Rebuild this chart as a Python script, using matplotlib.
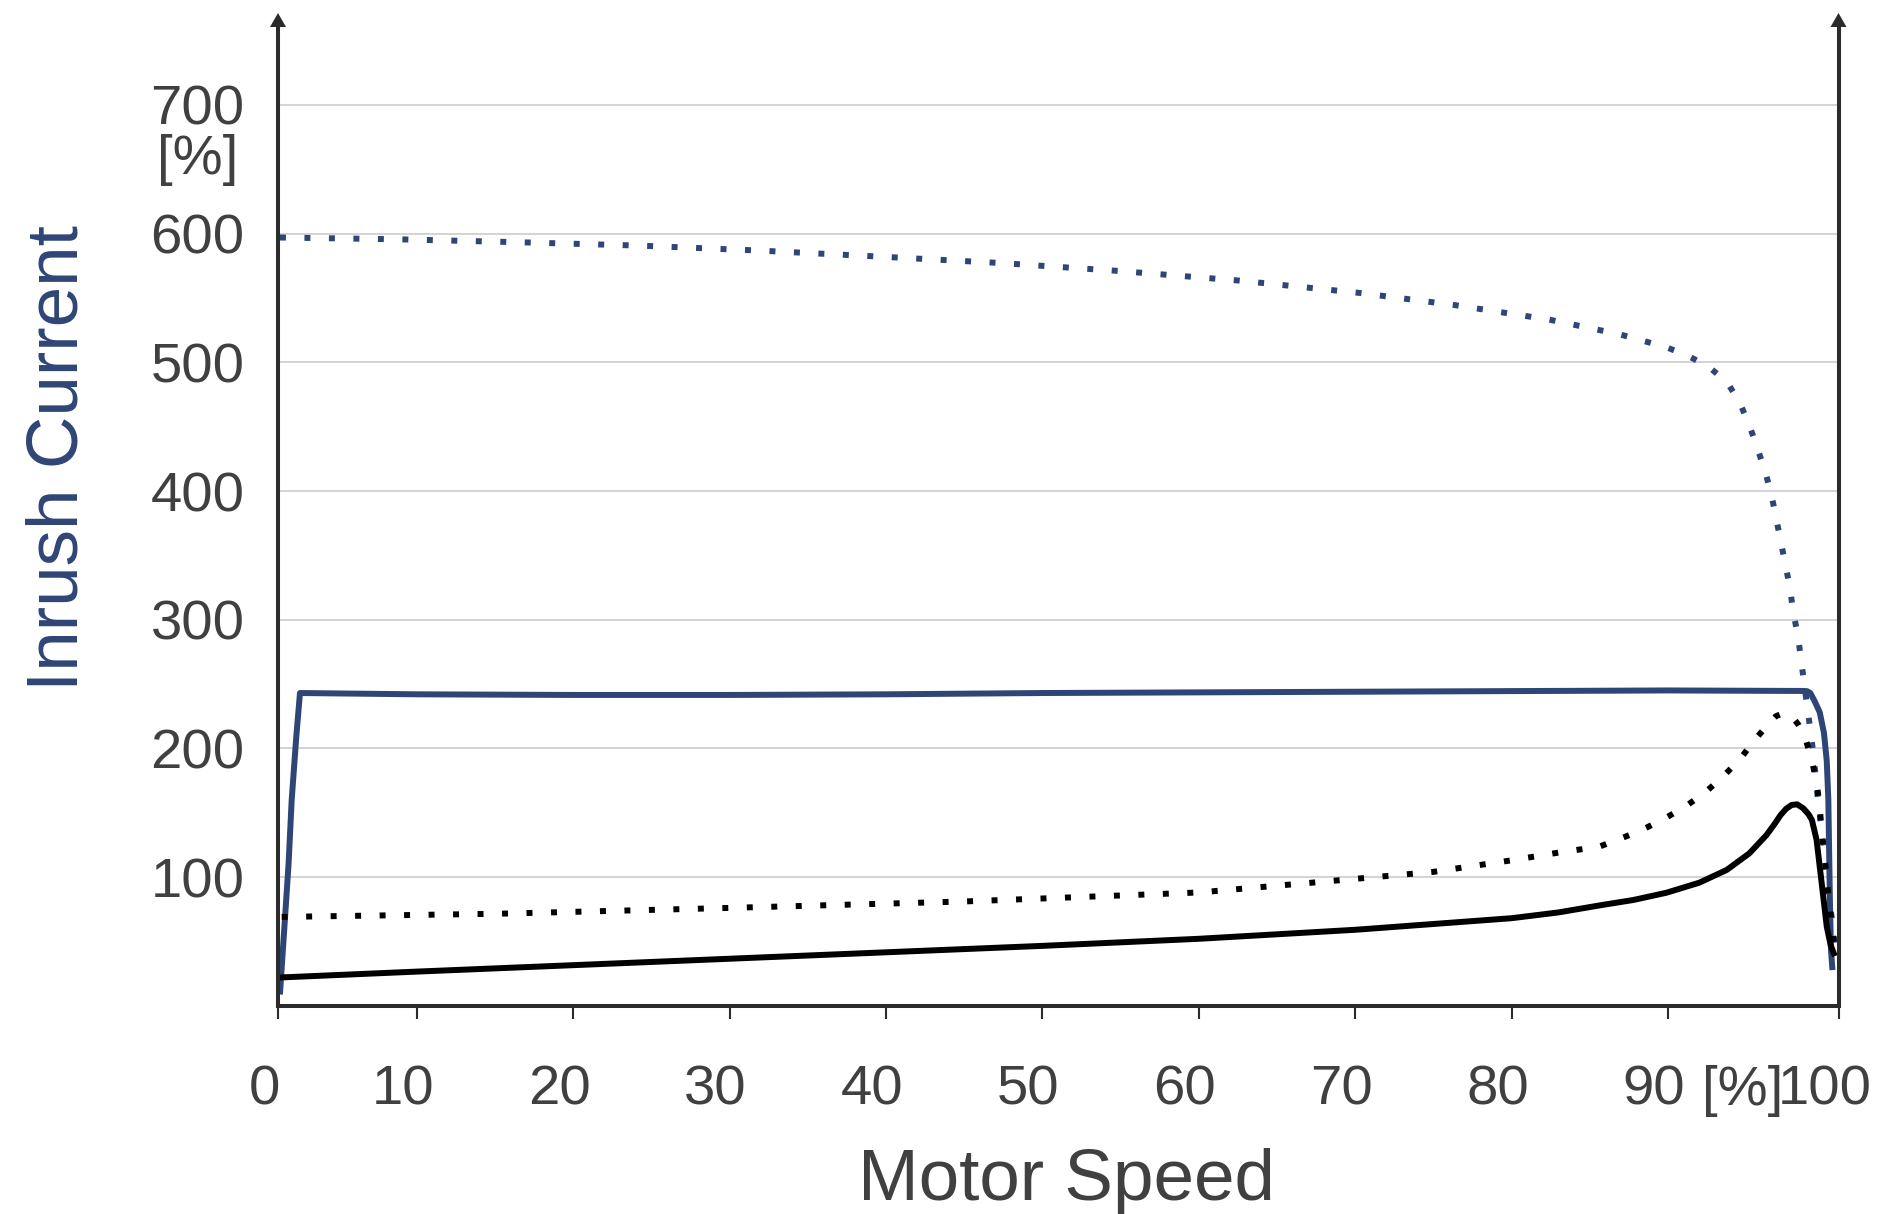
import matplotlib
matplotlib.use("Agg")
import matplotlib.pyplot as plt
from matplotlib.patches import Polygon
from matplotlib.transforms import ScaledTranslation, IdentityTransform

plt.rcParams['font.family'] = ['Liberation Sans', 'DejaVu Sans']

# ---- data -------------------------------------------------------------
# Inrush current [%] versus motor speed [%]
dol_speed = [1.25, 8.9, 16.6, 24.3, 32.0, 39.7, 47.3, 54.9, 62.6, 70.3, 76.3,
             82.4, 86.9, 89.9, 91.3, 92.6, 93.8, 94.6, 95.2, 95.7, 96.2, 96.6,
             96.9, 97.2, 97.5, 97.8, 98.0, 98.3, 98.5, 98.7, 98.9, 99.1, 99.3,
             99.6, 99.8, 100.0, 100.1, 100.3, 100.5, 100.7]
dol_current = [597, 595.6, 593.3, 590.7, 586.8, 582.1, 577.2, 571.0, 563.5,
               553.9, 544.6, 533.2, 521.8, 511.7, 504.9, 496.6, 484.2, 468.2,
               451.1, 433.7, 415.6, 397.7, 379.6, 361.4, 343.0, 324.6, 306.2,
               287.9, 269.5, 251.0, 232.4, 214.3, 195, 158.5, 139, 121, 103,
               84, 65, 45]

soft_speed = [1.26, 1.8, 2.0, 2.3, 2.53, 10, 20, 30, 40, 50, 60, 70, 80, 90,
              98.7, 98.9, 99.1, 99.4, 99.7, 99.97, 100.15, 100.25, 100.3,
              100.35, 100.42, 100.5]
soft_current = [11, 110, 160, 210, 243, 242, 241.5, 241.5, 242, 243, 243.5,
                244, 244.5, 245, 244.6, 244.4, 243, 236, 228, 212, 190, 160,
                121, 82, 43, 30]

vfd_speed = [1.4, 10, 20, 30, 40, 50, 60, 70, 80, 83, 85.65, 87.8, 89.9, 92.0,
             93.75, 95.2, 96.3, 96.8, 97.2, 97.55, 97.9, 98.25, 98.65, 99.0,
             99.2, 99.5, 99.7, 99.9, 100.15, 100.4, 100.6]
vfd_current = [22, 26.5, 31.5, 36.5, 41.5, 46.5, 52, 59, 68, 72.5, 78.0, 82.2,
               87.8, 95.6, 105.5, 118.4, 132.7, 141, 148.2, 153, 156.0, 156.5,
               153.4, 148.5, 144.3, 128.8, 108, 87.4, 61.4, 47, 40.7]

star_speed = [1.36, 15.3, 30, 45, 60, 67.6, 75, 80, 83, 85.6, 87.0, 88.4, 89.8,
              91.1, 92.4, 93.5, 94.6, 95.5, 96.5, 96.9, 97.3, 97.7, 97.9,
              98.3, 98.75, 99.2, 99.5, 99.7, 99.8, 100.0, 100.15, 100.3,
              100.5, 100.7]
star_current = [69, 71.5, 76, 81, 88, 96, 104, 113, 119, 123.6, 130, 137,
                145.6, 154.7, 166, 178, 191.5, 206, 220, 225, 227, 226.5, 225,
                219, 209, 191, 173, 155, 137, 117, 99, 80, 60, 39]

y_ticks = [100, 200, 300, 400, 500, 600, 700]
x_tick_labels = ['0', '10', '20', '30', '40', '50', '60', '70', '80', '90', '100']

# ---- styling ----------------------------------------------------------
BLUE = '#2e4576'
BLACK = '#000000'
TEXT = '#404040'
AXIS = '#2b2b2b'
GRID = '#d3d3d3'

X_LO, X_HI = 1.125, 100.9
Y_HI = 760.6
DPI = 100

fig = plt.figure(figsize=(18.78, 12.14), dpi=DPI)
ax = fig.add_axes([0.14803, 0.17158, 0.83094, 0.80618])
ax.set_xlim(X_LO, X_HI)
ax.set_ylim(0, Y_HI)

lw_solid = 4.3
lw_dot = 4.3
dot_style = (0, (1, 3.1))

ax.plot(soft_speed, soft_current, color=BLUE, lw=lw_solid,
        solid_joinstyle='round', zorder=3)
ax.plot(dol_speed, dol_current, color=BLUE, lw=lw_dot, linestyle=dot_style,
        dash_capstyle='butt', zorder=3)
ax.plot(vfd_speed, vfd_current, color=BLACK, lw=lw_solid,
        solid_joinstyle='round', zorder=4)
ax.plot(star_speed, star_current, color=BLACK, lw=lw_dot, linestyle=dot_style,
        dash_capstyle='butt', zorder=4)

# horizontal grid
ax.set_yticks(y_ticks)
ax.yaxis.grid(True, color=GRID, lw=1.4, zorder=0)
ax.set_axisbelow(True)
ax.tick_params(axis='y', length=0, pad=24, labelsize=40.5, labelcolor=TEXT)

# x ticks: outer ticks sit on the two vertical axes
x_tick_pos = [X_LO] + list(range(10, 100, 10)) + [X_HI]
ax.set_xticks(x_tick_pos)
ax.set_xticklabels(x_tick_labels)
ax.tick_params(axis='x', direction='out', length=9.5, width=1.5, color=AXIS,
               pad=33, labelsize=40.5, labelcolor=TEXT)
shift = ScaledTranslation(-14 / DPI, 0, fig.dpi_scale_trans)
for lab in ax.get_xticklabels():
    lab.set_transform(lab.get_transform() + shift)

for side in ('left', 'right', 'bottom'):
    ax.spines[side].set_color(AXIS)
    ax.spines[side].set_linewidth(2.9)
    ax.spines[side].set_zorder(5)
ax.spines['top'].set_visible(False)

# arrow heads on top of both vertical axes (pixel units)
head_w, head_h = 16, 14
for xa in (0, 1):
    px, py = ax.transAxes.transform((xa, 1))
    head = Polygon([(px - head_w / 2, py), (px + head_w / 2, py),
                    (px, py + head_h)], closed=True, facecolor=AXIS,
                   edgecolor='none', transform=IdentityTransform(), zorder=6)
    fig.add_artist(head)

# unit labels
ax.annotate('[%]', xy=(0, 700), xycoords=('axes fraction', 'data'),
            xytext=(-80, -55), textcoords='offset pixels',
            ha='center', va='center', fontsize=40.5, color=TEXT)
ax.annotate('[%]', xy=(94.8, 0), xycoords=('data', 'axes fraction'),
            xytext=(0, -(9.5 + 33)), textcoords='offset points',
            ha='center', va='top', fontsize=40.5, color=TEXT)

# axis titles
fig.text(1066 / 1878, 1 - 1200 / 1214, 'Motor Speed', ha='center',
         va='baseline', fontsize=52.5, color=TEXT)
fig.text(78 / 1878, 1 - 458 / 1214, 'Inrush Current', rotation=90,
         rotation_mode='anchor', ha='center', va='baseline',
         fontsize=52.5, color=BLUE)

fig.savefig('out.png', dpi=DPI, facecolor='white')
